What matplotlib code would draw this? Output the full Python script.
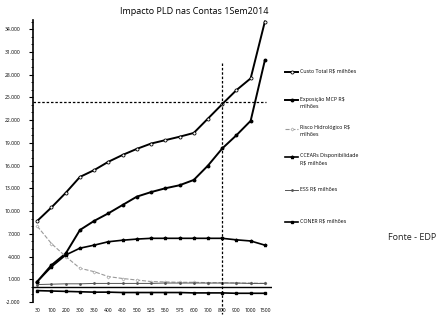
import matplotlib.pyplot as plt
from matplotlib.lines import Line2D
from matplotlib.ticker import FixedLocator, MultipleLocator

# dados (R$ milhoes)
pld = ['30', '100', '200', '300', '350', '400', '450', '500', '525', '550',
       '575', '600', '700', '800', '900', '1000', '1500']
custo_total = [8700, 10480, 12400, 14500, 15400, 16500, 17400, 18200, 18900,
               19350, 19800, 20300, 22200, 24100, 25950, 27500, 35000]
exposicao = [700, 2870, 4400, 7500, 8700, 9700, 10800, 11900, 12500, 13000,
             13400, 14100, 16000, 18250, 20000, 21900, 29900]
risco = [8000, 5700, 4000, 2450, 2000, 1350, 1100, 900, 700, 650, 600, 600,
         550, 550, 500, 500, 450]
ccear = [700, 2650, 4200, 5100, 5500, 5950, 6150, 6300, 6400, 6400, 6400,
         6400, 6400, 6400, 6200, 6050, 5500]
ess = [300, 350, 400, 400, 450, 450, 450, 450, 450, 500, 500, 500, 500, 500,
       500, 450, 450]
coner = [-500, -550, -600, -650, -700, -700, -750, -750, -750, -750, -750,
         -800, -800, -800, -850, -850, -850]

nomes = ['Custo Total R$ milhões', 'Exposição MCP R$\nmilhões',
         'Risco Hidrológico R$\nmilhões', 'CCEARs Disponibilidade\nR$ milhões',
         'ESS R$ milhões', 'CONER R$ milhões']
series = [custo_total, exposicao, risco, ccear, ess, coner]
estilos = [
    dict(color='black', lw=1.4, marker='o', ms=2.2, mfc='white', mew=0.6),
    dict(color='black', lw=1.4, marker='o', ms=1.8, mfc='black'),
    dict(color='#9a9a9a', lw=0.8, ls='--', marker='D', ms=1.6, mfc='white', mew=0.4),
    dict(color='black', lw=1.2, marker='*', ms=2.5),
    dict(color='#555555', lw=0.7, marker='.', ms=2),
    dict(color='black', lw=1.2, marker='s', ms=1.8),
]

plt.rcParams['font.family'] = ['Open Sans', 'DejaVu Sans']

fig = plt.figure(figsize=(4.48, 3.2), dpi=100)
ax = fig.add_axes([33 / 448, 1 - 302 / 320, (272 - 33) / 448, (302 - 20) / 320])

x = list(range(len(pld)))
for vals, st in zip(series, estilos):
    ax.plot(x, vals, **st)

# linhas de referencia
ax.axhline(0, color='black', lw=1.0)
ax.plot([-0.3, 16.1], [24400, 24400], color='black', lw=0.9, ls=(0, (2, 1.5)))
ax.plot([13, 13], [29500, -3600], color='black', lw=0.9, ls=(0, (2, 1.5)),
        clip_on=False)

ax.set_xlim(-0.3, 16.5)
ax.set_ylim(-2000, 35200)
ax.yaxis.set_major_locator(FixedLocator(range(-2000, 34001, 3000)))
ax.yaxis.set_minor_locator(MultipleLocator(1000))
ax.set_yticklabels([f'{v:,}'.replace(',', '.') for v in range(-2000, 34001, 3000)])
ax.set_xticks(x)
ax.set_xticklabels(pld)
ax.tick_params(axis='x', length=0, labelsize=3.6, pad=4)
ax.tick_params(axis='y', which='major', length=3, width=0.8, labelsize=3.6, pad=6)
ax.tick_params(axis='y', which='minor', length=1.5, width=0.6)

for s in ['top', 'right', 'bottom']:
    ax.spines[s].set_visible(False)
ax.spines['left'].set_linewidth(1.2)

fig.text(194 / 448, 1 - 12 / 320, 'Impacto PLD nas Contas 1Sem2014',
         ha='center', va='center', fontsize=6.5)

# legenda
leg_y = [72, 100, 129, 157, 190, 222]
for nome, st, yp in zip(nomes, estilos, leg_y):
    yf = 1 - yp / 320
    fig.add_artist(Line2D([285 / 448, 291.5 / 448, 298 / 448], [yf, yf, yf],
                          transform=fig.transFigure, markevery=[1], **st))
    fig.text(299.5 / 448, yf + 3.5 / 320, nome, ha='left', va='top',
             fontsize=3.8, linespacing=1.5)

fig.text(388 / 448, 1 - 237 / 320, 'Fonte - EDP', ha='left', va='center',
         fontsize=6.5, color='#222222')

fig.savefig('out.png', dpi=100)
